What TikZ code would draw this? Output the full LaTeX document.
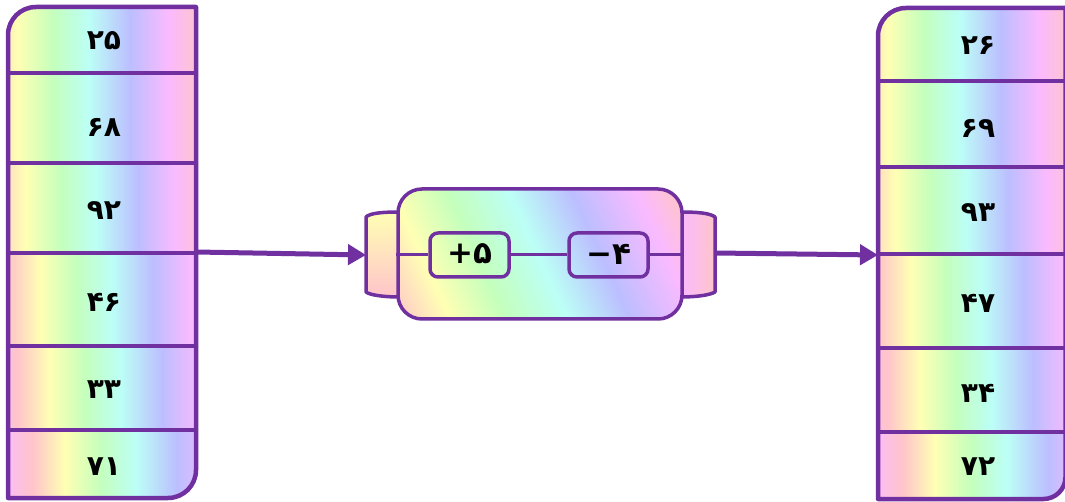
\documentclass[tikz,border=0pt]{standalone}
\usepackage{fontspec}
\newfontfamily\digfont{DejaVu Sans}
\usetikzlibrary{arrows.meta}
\definecolor{bord}{RGB}{112,48,160}
\definecolor{rsal}{RGB}{255,196,202}
\definecolor{rylw}{RGB}{255,255,180}
\definecolor{rgrn}{RGB}{196,255,188}
\definecolor{rcyn}{RGB}{188,255,246}
\definecolor{rblu}{RGB}{188,190,255}
\definecolor{rpnk}{RGB}{250,186,255}
\newcommand\mkrainbow[2]{%
  \pgfmathsetmacro\rbA{25+50*(#2-0.54)}%
  \pgfmathsetmacro\rbB{25+50*(#2-0.34)}%
  \pgfmathsetmacro\rbC{25+50*(#2-0.17)}%
  \pgfmathsetmacro\rbD{25+50*(#2)}%
  \pgfmathsetmacro\rbE{25+50*(#2+0.19)}%
  \pgfmathsetmacro\rbF{25+50*(#2+0.38)}%
  \pgfmathsetmacro\rbG{25+50*(#2+0.60)}%
  \pgfmathsetmacro\rbH{25+50*(#2+0.80)}%
  \pgfmathsetmacro\rbI{25+50*(#2+0.97)}%
  \pgfmathsetmacro\rbJ{25+50*(#2+1.14)}%
  \edef\rbtmp{\noexpand\pgfdeclarehorizontalshading{#1}{100bp}{color(0bp)=(rblu); color(\rbA bp)=(rblu); color(\rbB bp)=(rpnk); color(\rbC bp)=(rsal); color(\rbD bp)=(rylw); color(\rbE bp)=(rgrn); color(\rbF bp)=(rcyn); color(\rbG bp)=(rblu); color(\rbH bp)=(rpnk); color(\rbI bp)=(rsal); color(\rbJ bp)=(rylw); color(100bp)=(rylw)}}%
  \rbtmp}
\mkrainbow{rbowA}{0.05}
\mkrainbow{rbowB}{0.09}
\mkrainbow{rbowC}{0.17}
\mkrainbow{rbowD}{0.22}
\mkrainbow{rbowE}{0.30}
\pgfdeclarehorizontalshading{rbowmid}{100bp}{color(0bp)=(rpnk); color(26.5bp)=(rpnk); color(32.5bp)=(rsal); color(38bp)=(rylw); color(43.6bp)=(rgrn); color(49.8bp)=(rcyn); color(56bp)=(rblu); color(62.5bp)=(rpnk); color(66.5bp)=(rsal); color(72bp)=(rylw); color(100bp)=(rylw)}
\tikzset{
  num/.style={font=\digfont\bfseries\fontsize{28}{32}\selectfont, text=black, inner sep=0pt},
  opnum/.style={font=\digfont\bfseries\fontsize{31}{35}\selectfont, text=black, inner sep=0pt},
  colborder/.style={draw=bord, line width=4.5pt, line join=round},
  divider/.style={draw=bord, line width=3.5pt},
  tabshape/.style={draw=bord, line width=3.5pt, line join=round},
  procbox/.style={draw=bord, line width=3.5pt, rounded corners=24pt, minimum width=284pt, minimum height=130pt, inner sep=0pt},
  opbox/.style={draw=bord, line width=3.5pt, rounded corners=8pt, minimum width=79pt, minimum height=44pt, inner sep=0pt},
  wire/.style={draw=bord, line width=3pt},
  arr/.style={draw=bord, line width=5pt, -{Triangle[length=18pt,width=20pt]}},
}
\begin{document}
\begin{tikzpicture}[x=1pt,y=-1pt]
\useasboundingbox (0,0) rectangle (1065,502);

% ---------- left column ----------
\begin{scope}
\clip (36,7) -- (196,7) -- (196,470) .. controls (196,485.5) and (183.5,498) .. (168,498) -- (8,498) -- (8,35) .. controls (8,19.5) and (20.5,7) .. (36,7) -- cycle;
\shade[shading=rbowA] (8,5) rectangle (196,73);
\shade[shading=rbowA] (8,73) rectangle (196,163);
\shade[shading=rbowB] (8,163) rectangle (196,253);
\shade[shading=rbowC] (8,253) rectangle (196,346);
\shade[shading=rbowD] (8,346) rectangle (196,430);
\shade[shading=rbowE] (8,430) rectangle (196,500);
\end{scope}
\draw[colborder] (36,7) -- (196,7) -- (196,470) .. controls (196,485.5) and (183.5,498) .. (168,498) -- (8,498) -- (8,35) .. controls (8,19.5) and (20.5,7) .. (36,7) -- cycle;
\foreach \yy in {73,163,253,346,430} \draw[divider] (8,\yy) -- (196,\yy);
\node[num] (l1) at (104,41) {۲۵};
\node[num] (l2) at (104,127) {۶۸};
\node[num] (l3) at (104,211) {۹۲};
\node[num] (l4) at (104,302) {۴۶};
\node[num] (l5) at (104,390) {۳۳};
\node[num] (l6) at (104,467) {۷۱};

% ---------- right column ----------
\begin{scope}
\clip (906,8) -- (1065.5,8) -- (1065.5,477) .. controls (1065.5,489.1) and (1055.6,499) .. (1043.5,499) -- (878,499) -- (878,36) .. controls (878,20.5) and (890.5,8) .. (906,8) -- cycle;
\shade[shading=rbowA] (878,6) rectangle (1067,81);
\shade[shading=rbowA] (878,81) rectangle (1067,167);
\shade[shading=rbowB] (878,167) rectangle (1067,254);
\shade[shading=rbowC] (878,254) rectangle (1067,348);
\shade[shading=rbowD] (878,348) rectangle (1067,432);
\shade[shading=rbowE] (878,432) rectangle (1067,501);
\end{scope}
\draw[colborder] (906,8) -- (1065.5,8) -- (1065.5,477) .. controls (1065.5,489.1) and (1055.6,499) .. (1043.5,499) -- (878,499) -- (878,36) .. controls (878,20.5) and (890.5,8) .. (906,8) -- cycle;
\foreach \yy in {81,167,254,348,432} \draw[divider] (878,\yy) -- (1065.5,\yy);
\node[num] (r1) at (978,45) {۲۶};
\node[num] (r2) at (978,128) {۶۹};
\node[num] (r3) at (978,213) {۹۳};
\node[num] (r4) at (978,303) {۴۷};
\node[num] (r5) at (978,393) {۳۴};
\node[num] (r6) at (978,467) {۷۲};

% ---------- processor ----------
\shade[tabshape, top color=rylw, bottom color=rsal] (400,212) .. controls (383,212) and (370,213) .. (366,217) -- (366,292) .. controls (370,295) and (383,297) .. (400,297) -- cycle;
\shade[tabshape, left color=rpnk, right color=rsal] (680,212) .. controls (697,212) and (710,213) .. (715,217) -- (715,292) .. controls (710,295) and (697,297) .. (680,297) -- cycle;
\coordinate (tabLin) at (366,255);
\coordinate (tabRout) at (715,253);

\begin{scope}
\clip[rounded corners=24pt] (398,189) rectangle (682,319);
\begin{scope}[transform canvas={shift={(540,254)}, xslant=-0.46}]
\shade[shading=rbowmid] (-250,-80) rectangle (250,80);
\end{scope}
\end{scope}
\node[procbox] (proc) at (540,254) {};
\node[opbox] (op1) at (469.5,255) {};
\node[opbox] (op2) at (608.5,255) {};
\node[opnum] at ([yshift=1pt]op1.center) {+۵};
\node[opnum] at ([yshift=1pt]op2.center) {−۴};
\draw[wire] (proc.west |- op1.west) -- (op1.west);
\draw[wire] (op1.east) -- (op2.west);
\draw[wire] (op2.east) -- (proc.east |- op2.east);

% ---------- arrows ----------
\coordinate (lout) at (196,252);
\coordinate (rin) at (878,255);
\draw[arr] (lout) -- (tabLin);
\draw[arr] (tabRout) -- (rin);
\end{tikzpicture}
\end{document}
